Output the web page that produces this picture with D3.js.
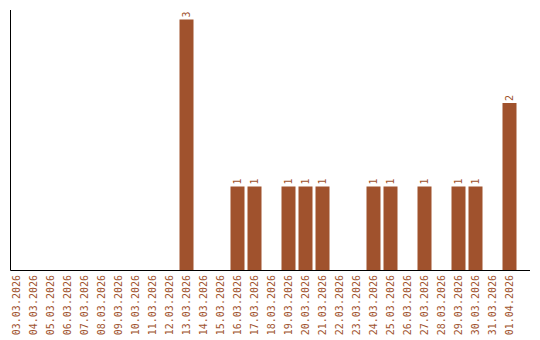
<!DOCTYPE html>
<html>
<head>
<meta charset="utf-8">
<script src="https://cdn.jsdelivr.net/npm/d3@7"></script>
<style>
  body { margin: 0; background: #fff; }
  text { font-family: "DejaVu Sans Mono", monospace; font-size: 10px; fill: #a0522d; }
</style>
</head>
<body>
<svg id="chart"></svg>
<script>
// Dates on the x axis
let dates = ['03.03.2026', '04.03.2026', '05.03.2026', '06.03.2026', '07.03.2026',
  '08.03.2026', '09.03.2026', '10.03.2026', '11.03.2026', '12.03.2026',
  '13.03.2026', '14.03.2026', '15.03.2026', '16.03.2026', '17.03.2026',
  '18.03.2026', '19.03.2026', '20.03.2026', '21.03.2026', '22.03.2026',
  '23.03.2026', '24.03.2026', '25.03.2026', '26.03.2026', '27.03.2026',
  '28.03.2026', '29.03.2026', '30.03.2026', '31.03.2026', '01.04.2026'];

// Count per date
let counts = [0, 0, 0, 0, 0, 0, 0, 0, 0, 0,
  3, 0, 0, 1, 1, 0, 1, 1, 1, 0,
  0, 1, 1, 0, 1, 0, 1, 1, 0, 2];

let width = 540;
let height = 340;
let barColor = '#a0522d';

let svg = d3.select('#chart')
    .attr('width', width)
    .attr('height', height);

let xScale = d3.scaleBand()
    .domain(dates)
    .range([8, 518])
    .paddingInner(3 / 17)
    .paddingOuter(1.5 / 17);

let yScale = d3.scaleLinear()
    .domain([0, 3])
    .range([270, 19.5]);

let values = dates.map((d, i) => ({ date: d, count: counts[i] }));

// Bars
svg.selectAll('rect.bar')
    .data(values.filter((item) => item.count > 0))
    .enter()
    .append('rect')
    .attr('class', 'bar')
    .attr('x', (item) => xScale(item.date))
    .attr('y', (item) => yScale(item.count))
    .attr('width', xScale.bandwidth())
    .attr('height', (item) => yScale(0) - yScale(item.count))
    .attr('fill', barColor);

// Value labels above bars, rotated
svg.selectAll('text.value')
    .data(values.filter((item) => item.count > 0))
    .enter()
    .append('text')
    .attr('class', 'value')
    .attr('transform', (item) => 'translate(' + (xScale(item.date) + xScale.bandwidth() / 2 + 3.5) + ',' + (yScale(item.count) - 2) + ') rotate(-90)')
    .text((item) => item.count);

// Axes
let xAxis = d3.axisBottom(xScale).tickSize(0).tickPadding(0);
let gx = svg.append('g')
    .attr('transform', 'translate(0,' + yScale(0) + ')')
    .call(xAxis);
gx.select('.domain').remove();
gx.selectAll('text')
    .attr('transform', 'rotate(-90)')
    .attr('text-anchor', 'end')
    .attr('x', -5)
    .attr('y', 0)
    .attr('dy', '0.35em');

svg.append('line')
    .attr('x1', 10.5).attr('x2', 530)
    .attr('y1', 270.5).attr('y2', 270.5)
    .attr('stroke', '#000');

svg.append('line')
    .attr('x1', 10.5).attr('x2', 10.5)
    .attr('y1', 10).attr('y2', 270.5)
    .attr('stroke', '#000');
</script>
</body>
</html>
